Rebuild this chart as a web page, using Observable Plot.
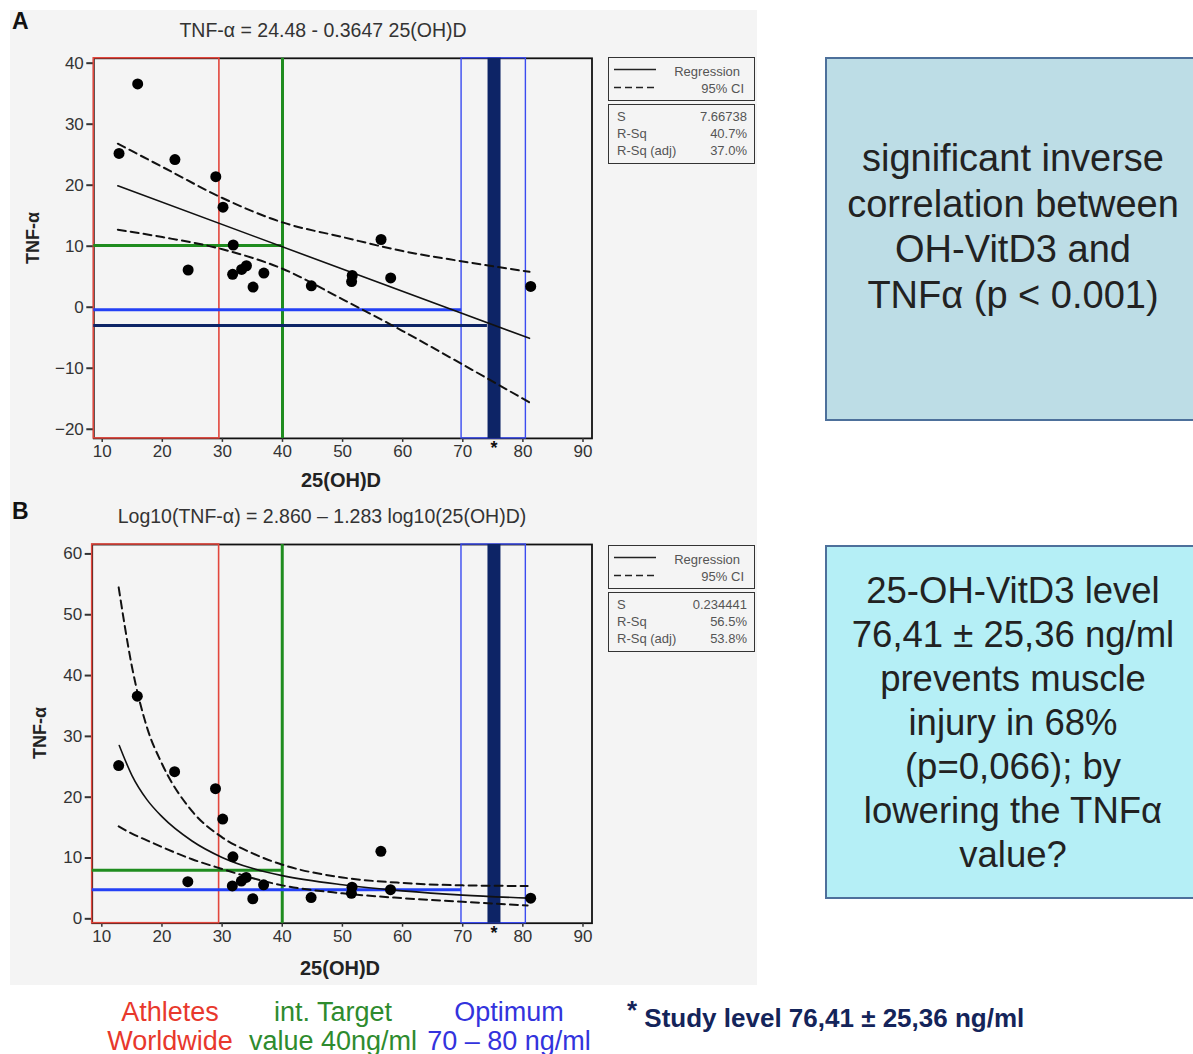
<!DOCTYPE html>
<html><head><meta charset="utf-8">
<script src="https://cdn.jsdelivr.net/npm/d3@7"></script>
<script src="https://cdn.jsdelivr.net/npm/@observablehq/plot@0.6"></script>
<style>
body{margin:0;width:1193px;height:1054px;overflow:hidden;background:#fff;font-family:Arial,"Liberation Sans",sans-serif;position:relative}
.abs{position:absolute}
#panel{left:10px;top:10px;width:747px;height:975px;background:#f4f4f4}
.ctr{transform:translateX(-50%);white-space:nowrap}
.letter{font-weight:bold;font-size:23px;color:#111}
.title{font-size:19.5px;color:#333}
.xlab{font-weight:bold;font-size:20px;color:#222}
.ylab{font-weight:bold;font-size:18px;color:#222;transform:translate(-50%,-50%) rotate(-90deg);white-space:nowrap}
.lg{border:1.5px solid #333;background:#f4f4f4;font-size:13px;color:#555;box-sizing:border-box}
.row{position:absolute;left:8px;right:7px;display:flex;justify-content:space-between;line-height:17px}
.note{font-size:38px;color:#222;text-align:center;line-height:45.5px;white-space:nowrap}
.bl{font-family:"Liberation Sans Narrow","Arial Narrow",Arial,sans-serif;font-size:27px;line-height:29px;text-align:center;white-space:nowrap;transform:translateX(-50%)}
</style></head><body>
<div id="panel" class="abs"></div>
<div id="root"></div>
<script>
// ---------- data ----------
const vitD = [12.8, 15.9, 22.1, 28.9, 30.1, 31.8, 24.3, 31.7, 33.2, 34.0, 36.9, 35.1, 44.8, 51.6, 51.5, 56.4, 58.0, 81.3];
const tnf  = [25.2, 36.6, 24.2, 21.4, 16.4, 10.2, 6.1, 5.4, 6.2, 6.8, 5.6, 3.3, 3.5, 5.2, 4.2, 11.1, 4.8, 3.4];

// Panel A (linear fit)
const fitAx = [12.6, 81.1];
const fitAy = [19.9, -5.1];
const ciAx = [12.6, 20, 30, 40, 50, 60, 70, 81.1];
const ciAupper = [26.8, 23.0, 17.9, 13.9, 11.5, 9.2, 7.5, 5.8];
const ciAlower = [12.7, 11.5, 9.5, 6.3, 1.3, -3.9, -9.4, -15.6];

// Panel B (log-log fit)
const fitBx = [12.9, 15, 17.5, 20, 25, 30, 35, 40, 50, 60, 70, 81];
const fitBy = [28.5, 23.6, 19.6, 16.8, 12.8, 10.1, 8.3, 7.1, 5.6, 4.6, 3.9, 3.4];
const ciBx = [12.8, 15, 17.5, 20, 25, 30, 35, 40, 50, 60, 70, 80.8];
const ciBupper = [54.5, 41.5, 31.5, 25.5, 17.7, 13.4, 10.8, 8.9, 6.8, 5.9, 5.5, 5.4];
const ciBlower = [15.2, 14.0, 12.9, 11.8, 9.8, 8.2, 6.7, 5.5, 4.2, 3.4, 2.8, 2.2];

// reference zones (25(OH)D ng/ml)
const athletesMax = 29.5;
const targetValue = 40;
const optimumRange = [69.8, 80.5];
const studyLevel = 75.2;

// horizontal read-offs
const hLinesA = [
  {y: 10.1, xEnd: 40, color: "#1f8c1f"},
  {y: -0.4, xEnd: 69.8, color: "#2340f5"},
  {y: -3.0, xEnd: 74.1, color: "#0d2466"}
];
const hLinesB = [
  {y: 8.0, xEnd: 40, color: "#1f8c1f"},
  {y: 4.8, xEnd: 69.8, color: "#2340f5"}
];

const xTicks = [10, 20, 30, 40, 50, 60, 70, 80, 90];
const yTicksA = [-20, -10, 0, 10, 20, 30, 40];
const yTicksB = [0, 10, 20, 30, 40, 50, 60];

const titleA = "TNF-α = 24.48 - 0.3647 25(OH)D";
const titleB = "Log10(TNF-α) = 2.860 – 1.283 log10(25(OH)D)";
const statsA = [["S", "7.66738"], ["R-Sq", "40.7%"], ["R-Sq (adj)", "37.0%"]];
const statsB = [["S", "0.234441"], ["R-Sq", "56.5%"], ["R-Sq (adj)", "53.8%"]];
const noteA = ["significant inverse", "correlation between", "OH-VitD3 and", "TNFα (p < 0.001)"];
const noteB = ["25-OH-VitD3 level", "76,41 ± 25,36 ng/ml", "prevents muscle", "injury in 68%", "(p=0,066); by", "lowering the TNFα", "value?"];
const bottomLabels = [
  {lines: ["Athletes", "Worldwide"], color: "#e8382c", cx: 170},
  {lines: ["int. Target", "value 40ng/ml"], color: "#2e8b2e", cx: 333},
  {lines: ["Optimum", "70 – 80 ng/ml"], color: "#3333dd", cx: 509}
];
const studyText = "Study level 76,41 ± 25,36 ng/ml";

// ---------- build ----------
const points = vitD.map((x, i) => ({x, y: tnf[i]}));
const fitA = fitAx.map((x, i) => ({x, y: fitAy[i]}));
const upA = ciAx.map((x, i) => ({x, y: ciAupper[i]}));
const loA = ciAx.map((x, i) => ({x, y: ciAlower[i]}));
const fitB = fitBx.map((x, i) => ({x, y: fitBy[i]}));
const upB = ciBx.map((x, i) => ({x, y: ciBupper[i]}));
const loB = ciBx.map((x, i) => ({x, y: ciBlower[i]}));

const font = "Arial, 'Liberation Sans', sans-serif";

function panel(o) {
  const xd = o.xDomain;
  return Plot.plot({
    width: 760, height: 500,
    marginLeft: o.ml, marginRight: 760 - o.fr, marginTop: o.ft, marginBottom: 500 - o.fb,
    x: {domain: xd},
    y: {domain: o.yDomain},
    style: {background: "transparent", fontFamily: font, fontSize: "17px", color: "#333", overflow: "visible"},
    marks: [
      Plot.frame({stroke: "#111", strokeWidth: 1.8}),
      Plot.axisX({ticks: xTicks, tickSize: 4, tickPadding: 3, label: null, strokeWidth: 1.5}),
      Plot.axisY({ticks: o.yTicks, tickSize: 7, tickPadding: 3, label: null, strokeWidth: 2}),
      Plot.text([studyLevel], {x: d => d, frameAnchor: "bottom", dy: 16, text: () => "*", fontSize: 18, fontWeight: "bold", fill: "#111"}),
      Plot.rect([athletesMax], {x1: xd[0], x2: d => d, stroke: "#e2463c", fill: "none", strokeWidth: 1.6}),
      Plot.rect([optimumRange], {x1: d => d[0], x2: d => d[1], stroke: "#3a4bf0", fill: "none", strokeWidth: 1.4}),
      Plot.ruleX([targetValue], {x: d => d, stroke: "#1f8c1f", strokeWidth: 3}),
      Plot.ruleY(o.hLines, {y: "y", x1: xd[0], x2: "xEnd", stroke: d => d.color, strokeWidth: 3}),
      Plot.ruleX([studyLevel], {x: d => d, stroke: "#0d2466", strokeWidth: 13}),
      Plot.line(o.up, {x: "x", y: "y", stroke: "#111", strokeWidth: 2, strokeDasharray: "8,5", curve: "monotone-x"}),
      Plot.line(o.lo, {x: "x", y: "y", stroke: "#111", strokeWidth: 2, strokeDasharray: "8,5", curve: "monotone-x"}),
      Plot.line(o.fit, {x: "x", y: "y", stroke: "#111", strokeWidth: 1.6, curve: "monotone-x"}),
      Plot.dot(points, {x: "x", y: "y", r: 5.5, fill: "#000"})
    ]
  });
}

const root = document.getElementById("root");
const A = panel({xDomain: [8.6, 91.5], yDomain: [-21.5, 40.8], yTicks: yTicksA, ml: 93.3, fr: 591.5, ft: 57.8, fb: 437.9,
  hLines: hLinesA, up: upA, lo: loA, fit: fitA});
A.classList.add("abs"); A.style.left = "0px"; A.style.top = "0px";
root.appendChild(A);
const B = panel({xDomain: [8.4, 91.5], yDomain: [-0.72, 61.55], yTicks: yTicksB, ml: 91.7, fr: 591.5, ft: 54, fb: 432.7,
  hLines: hLinesB, up: upB, lo: loB, fit: fitB});
B.classList.add("abs"); B.style.left = "0px"; B.style.top = "490px";
root.appendChild(B);

function add(html) { root.insertAdjacentHTML("beforeend", html); }

// panel letters, titles, axis labels
add(`<div class="abs letter" style="left:12px;top:8px">A</div>`);
add(`<div class="abs letter" style="left:12px;top:498px">B</div>`);
add(`<div class="abs title ctr" style="left:323px;top:19px">${titleA}</div>`);
add(`<div class="abs title ctr" style="left:322px;top:505px">${titleB}</div>`);
add(`<div class="abs xlab ctr" style="left:341px;top:469px">25(OH)D</div>`);
add(`<div class="abs xlab ctr" style="left:340px;top:957px">25(OH)D</div>`);
add(`<div class="abs ylab" style="left:33px;top:238px">TNF-α</div>`);
add(`<div class="abs ylab" style="left:40px;top:733px">TNF-α</div>`);

// legend boxes
function legend(top, stats) {
  add(`<div class="abs lg" style="left:608px;top:${top}px;width:147px;height:44px">
    <svg class="abs" style="left:5px;top:0" width="50" height="44">
      <line x1="0" x2="42" y1="11.5" y2="11.5" stroke="#222" stroke-width="1.5"/>
      <line x1="0" x2="42" y1="29.5" y2="29.5" stroke="#222" stroke-width="1.5" stroke-dasharray="7,4"/>
    </svg>
    <div class="abs" style="right:14px;top:5px;line-height:17px">Regression</div>
    <div class="abs" style="right:10px;top:22px;line-height:17px">95% CI</div>
  </div>`);
  const rows = stats.map((s, i) => `<div class="row" style="top:${3 + i * 17}px"><span>${s[0]}</span><span>${s[1]}</span></div>`).join("");
  add(`<div class="abs lg" style="left:608px;top:${top + 47}px;width:147px;height:60px">${rows}</div>`);
}
legend(57, statsA);
legend(545, statsB);

// right note boxes
add(`<div class="abs" style="left:825px;top:57px;width:400px;height:364px;background:#bddde6;border:2.5px solid #4d709b;box-sizing:border-box"></div>`);
add(`<div class="abs note" style="left:825px;width:376px;top:136px">${noteA.join("<br>")}</div>`);
add(`<div class="abs" style="left:825px;top:545px;width:400px;height:354px;background:#b5eff6;border:2.5px solid #4d709b;box-sizing:border-box"></div>`);
add(`<div class="abs note" style="left:825px;width:376px;top:569px;font-size:36.5px;line-height:44px">${noteB.join("<br>")}</div>`);

// bottom labels
bottomLabels.forEach(b => add(`<div class="abs bl" style="left:${b.cx}px;top:998px;color:${b.color}">${b.lines.join("<br>")}</div>`));
add(`<div class="abs bl" style="left:627px;top:1004px;transform:none;color:#14245a;font-weight:bold;font-size:26px"><span style="position:relative;top:-8px">*</span> ${studyText}</div>`);
</script>
</body></html>
